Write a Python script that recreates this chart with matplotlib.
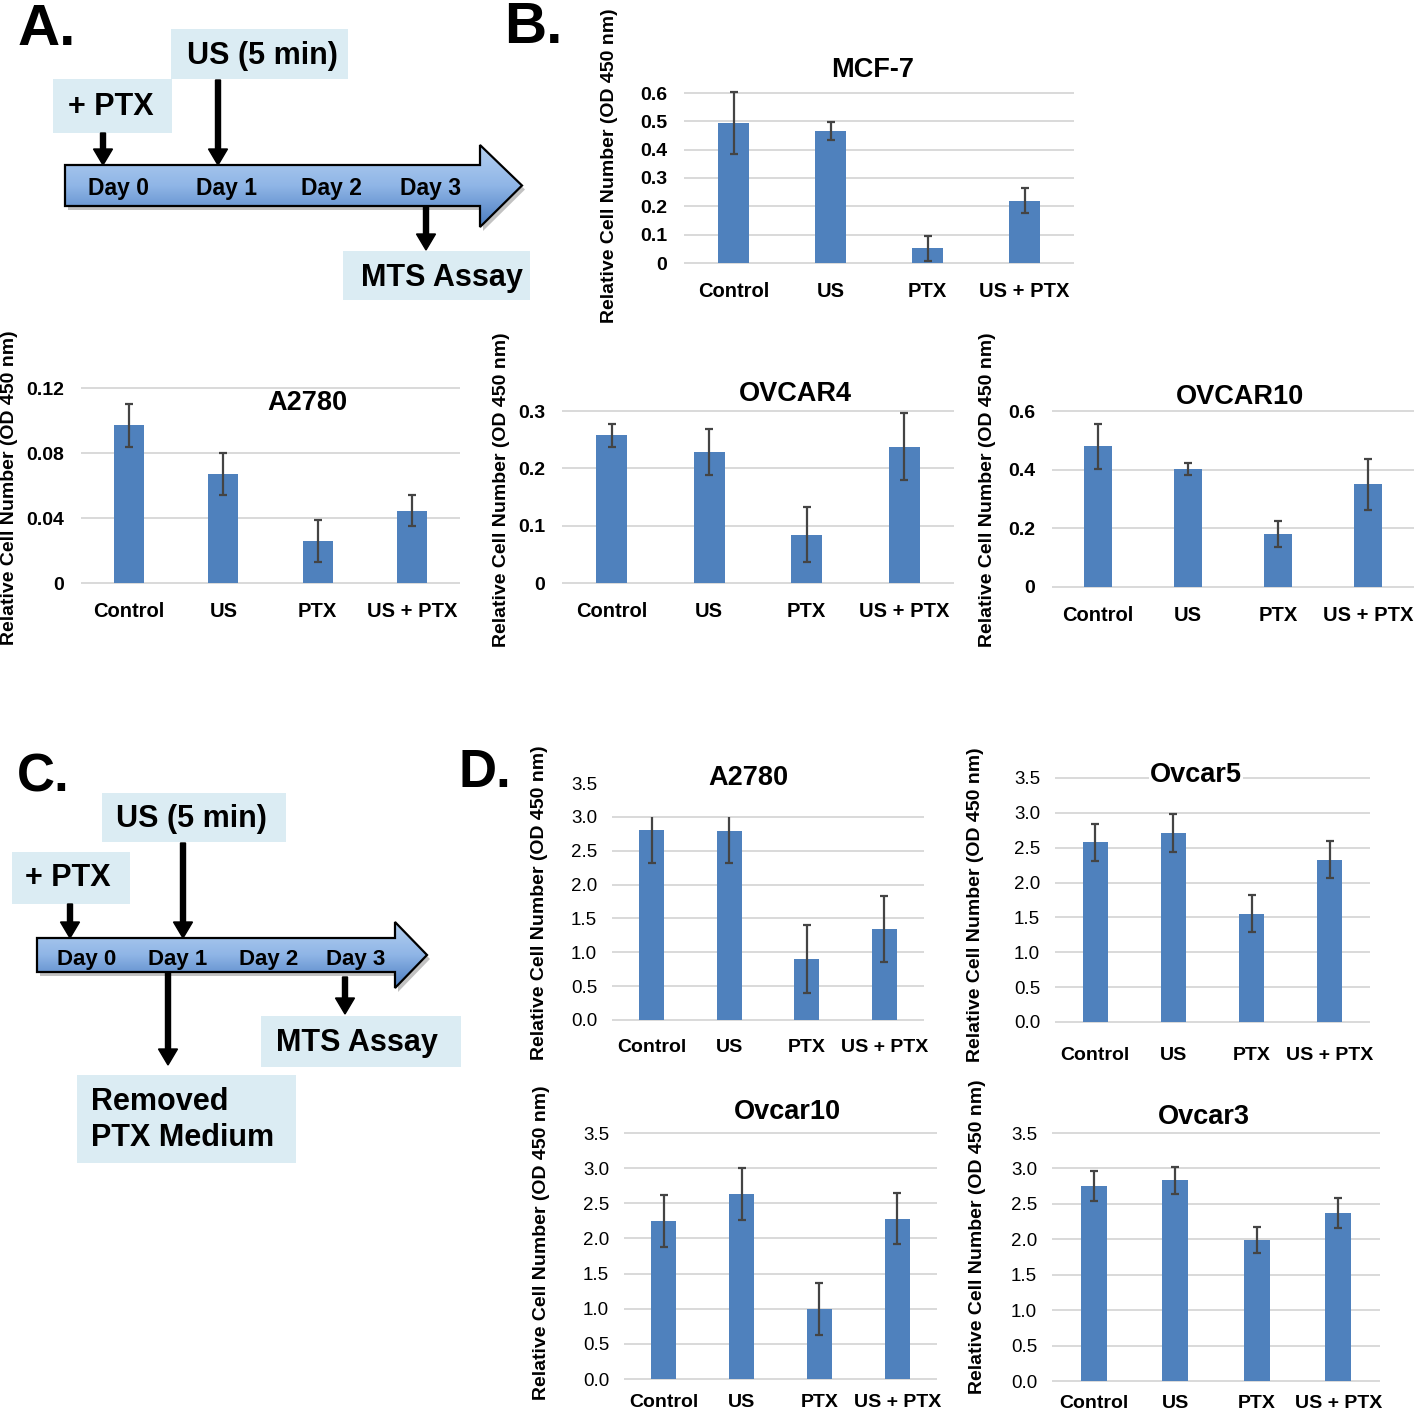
import numpy as np
import matplotlib
matplotlib.use('Agg')
import matplotlib.pyplot as plt
from matplotlib.patches import Polygon, Rectangle
from matplotlib.colors import LinearSegmentedColormap

plt.rcParams['font.family'] = ['Liberation Sans', 'DejaVu Sans']

W, H = 1418, 1414

groups = ['Control', 'US', 'PTX', 'US + PTX']

# panel B (OD 450 nm, mean and error)
mcf7_mean = [0.495, 0.466, 0.052, 0.220]
mcf7_err = [0.110, 0.033, 0.045, 0.045]
a2780_mean = [0.097, 0.067, 0.026, 0.0445]
a2780_err = [0.013, 0.013, 0.013, 0.0095]
ovcar4_mean = [0.258, 0.228, 0.084, 0.238]
ovcar4_err = [0.020, 0.040, 0.048, 0.059]
ovcar10_mean = [0.479, 0.403, 0.180, 0.350]
ovcar10_err = [0.078, 0.020, 0.045, 0.088]

# panel D
d_a2780_mean = [2.81, 2.79, 0.90, 1.34]
d_a2780_err = [0.49, 0.47, 0.50, 0.49]
d_ovcar5_mean = [2.575, 2.71, 1.555, 2.33]
d_ovcar5_err = [0.27, 0.27, 0.27, 0.27]
d_ovcar10_mean = [2.25, 2.635, 1.00, 2.28]
d_ovcar10_err = [0.37, 0.366, 0.37, 0.365]
d_ovcar3_mean = [2.75, 2.83, 1.99, 2.37]
d_ovcar3_err = [0.21, 0.19, 0.19, 0.21]

mcf7_ticks = [0, 0.1, 0.2, 0.3, 0.4, 0.5, 0.6]
mcf7_labels = ['0', '0.1', '0.2', '0.3', '0.4', '0.5', '0.6']
a2780_ticks = [0, 0.04, 0.08, 0.12]
a2780_labels = ['0', '0.04', '0.08', '0.12']
ovcar4_ticks = [0, 0.1, 0.2, 0.3]
ovcar4_labels = ['0', '0.1', '0.2', '0.3']
ovcar10_ticks = [0, 0.2, 0.4, 0.6]
ovcar10_labels = ['0', '0.2', '0.4', '0.6']
d_ticks = [0, 0.5, 1.0, 1.5, 2.0, 2.5, 3.0, 3.5]
d_labels = ['0.0', '0.5', '1.0', '1.5', '2.0', '2.5', '3.0', '3.5']

YLAB = 'Relative Cell Number (OD 450 nm)'
BAR = '#4f81bd'
GRID = '#d9d9d9'
BOX = '#dbecf3'

fig = plt.figure(figsize=(W / 100, H / 100), dpi=100)

# overlay in pixel coordinates for the timelines and panel letters
ov = fig.add_axes([0, 0, 1, 1], zorder=-1)
ov.set_xlim(0, W)
ov.set_ylim(H, 0)
ov.axis('off')


def bar_panel(rect, means, errs, ticks, labels, title, title_xy, ylab_xy,
              tick_bold, xpad, ypad, fs=14.5, yfs=14, grid=None, clip_top=None,
              title_box=False):
    x0, x1, yt, yb = rect
    ax = fig.add_axes([x0 / W, 1 - yb / H, (x1 - x0) / W, (yb - yt) / H])
    x = np.arange(len(groups))
    ax.set_xlim(-0.5, len(groups) - 0.5)
    ax.set_ylim(ticks[0], ticks[-1])
    for g in (ticks if grid is None else grid):
        ax.axhline(g, color=GRID, lw=1.4, zorder=0, clip_on=False)
    ax.bar(x, means, width=0.32, color=BAR, zorder=2)
    eb = ax.errorbar(x, means, yerr=errs, fmt='none', ecolor='#444444',
                     elinewidth=1.6, capsize=3, capthick=1.6, zorder=3)
    parts = list(eb.lines[1]) + list(eb.lines[2])
    for p in parts:
        if clip_top is None:
            p.set_clip_on(False)
        else:
            p.set_clip_path(Rectangle((-0.5, 0), 4, clip_top,
                                      transform=ax.transData))
    for s in ax.spines.values():
        s.set_visible(False)
    ax.set_xticks(x, groups)
    ax.set_yticks(ticks, labels)
    ax.tick_params(axis='x', length=0, pad=xpad, labelsize=fs)
    ax.tick_params(axis='y', length=0, pad=ypad, labelsize=yfs)
    for lbl in ax.get_xticklabels():
        lbl.set_fontweight('bold')
    if tick_bold:
        for lbl in ax.get_yticklabels():
            lbl.set_fontweight('bold')
    bbox = dict(facecolor='white', edgecolor='none', pad=1) if title_box else None
    fig.text(title_xy[0] / W, 1 - title_xy[1] / H, title, ha='center',
             va='center', fontsize=19.5, fontweight='bold', bbox=bbox)
    fig.text(ylab_xy[0] / W, 1 - ylab_xy[1] / H, YLAB, rotation=90,
             ha='center', va='center', fontsize=14, fontweight='bold')
    return ax


bar_panel((685, 1073, 93, 263), mcf7_mean, mcf7_err, mcf7_ticks, mcf7_labels,
          'MCF-7', (873, 70), (609, 166), True, 14, 13)
bar_panel((82, 459, 388, 583), a2780_mean, a2780_err, a2780_ticks, a2780_labels,
          'A2780', (307, 403), (10, 488), True, 14, 13)
bar_panel((563, 953, 411, 583), ovcar4_mean, ovcar4_err, ovcar4_ticks, ovcar4_labels,
          'OVCAR4', (795, 394), (501, 490), True, 14, 13)
bar_panel((1053, 1413, 411, 587), ovcar10_mean, ovcar10_err, ovcar10_ticks,
          ovcar10_labels, 'OVCAR10', (1240, 397), (988, 490), True, 14, 13)

bar_panel((613, 923, 783, 1020), d_a2780_mean, d_a2780_err, d_ticks, d_labels,
          'A2780', (748, 778), (540, 903), False, 14, 11.5, fs=14, yfs=13.5,
          grid=d_ticks[:-1], clip_top=3.0)
bar_panel((1056, 1369, 778, 1022), d_ovcar5_mean, d_ovcar5_err, d_ticks, d_labels,
          'Ovcar5', (1196, 775), (975, 905), False, 18, 11.5, fs=14, yfs=13.5,
          title_box=True)
bar_panel((625, 936, 1133, 1379), d_ovcar10_mean, d_ovcar10_err, d_ticks, d_labels,
          'Ovcar10', (787, 1112), (542, 1243), False, 11, 11.5, fs=14, yfs=13.5)
bar_panel((1053, 1379, 1133, 1381), d_ovcar3_mean, d_ovcar3_err, d_ticks, d_labels,
          'Ovcar3', (1204, 1117), (977, 1237), False, 10, 11.5, fs=14, yfs=13.5)


# ---- timelines ----
tl_cmap = LinearSegmentedColormap.from_list('tl', ['#b4d0f1', '#8fb5e6', '#4a7cc0'])


def timeline(x0, hx, tip, yt, yb, ht, hb):
    yc = (yt + yb) / 2
    pts = [(x0, yt), (hx, yt), (hx, ht), (tip, yc), (hx, hb), (hx, yb), (x0, yb)]
    ov.add_patch(Polygon([(a + 3, b + 4) for a, b in pts], closed=True,
                         fc='#9a9a9a', ec='none', alpha=0.6, zorder=1))
    poly = Polygon(pts, closed=True, fc='none', ec='black', lw=1.6, zorder=3)
    grad = np.linspace(0, 1, 128).reshape(-1, 1)
    im = ov.imshow(grad, cmap=tl_cmap, extent=(x0, tip, hb, ht), aspect='auto',
                   zorder=2)
    ov.add_patch(poly)
    im.set_clip_path(poly)


def box(x0, x1, y0, y1):
    ov.add_patch(Rectangle((x0, y0), x1 - x0, y1 - y0, fc=BOX, ec='none', zorder=1))


def down_arrow(x, y0, y1):
    ov.arrow(x, y0, 0, y1 - y0, width=5, head_width=19, head_length=16,
             length_includes_head=True, fc='black', ec='black', zorder=4)


def label(x, y, s, fs=22, ha='center'):
    ov.text(x, y, s, ha=ha, va='center', fontsize=fs, fontweight='bold', zorder=5)


days = ['Day 0', 'Day 1', 'Day 2', 'Day 3']

# panel A
timeline(65, 480, 522, 165, 206, 145, 227)
for dx, d in zip([119, 226, 331, 431], days):
    label(dx, 188, d, fs=16.5)
box(53, 172, 79, 133)
label(111, 107, '+ PTX')
box(171, 348, 29, 79)
label(262, 56, 'US (5 min)')
down_arrow(103, 133, 165)
down_arrow(218, 80, 165)
down_arrow(426, 206, 250)
box(343, 530, 251, 300)
label(442, 278, 'MTS Assay')

# panel C
timeline(37, 395, 427, 938, 972, 922, 988)
for dx, d in zip([87, 178, 269, 356], days):
    label(dx, 960, d, fs=16)
box(102, 286, 793, 842)
label(191, 819, 'US (5 min)')
box(12, 130, 852, 904)
label(68, 878, '+ PTX')
down_arrow(70, 904, 938)
down_arrow(183, 843, 938)
down_arrow(168, 972, 1065)
down_arrow(345, 977, 1014)
box(261, 461, 1016, 1067)
label(357, 1043, 'MTS Assay')
box(77, 296, 1075, 1163)
label(91, 1102, 'Removed', ha='left')
label(91, 1138, 'PTX Medium', ha='left')

# panel letters
for lx, ly, s, fs in [(18, 45, 'A.', 42), (504, 43, 'B.', 42),
                      (17, 792, 'C.', 38), (459, 787, 'D.', 38)]:
    ov.text(lx, ly, s, ha='left', va='baseline', fontsize=fs, fontweight='bold')

ov.set_xlim(0, W)
ov.set_ylim(H, 0)

fig.savefig('out.png', dpi=100)
